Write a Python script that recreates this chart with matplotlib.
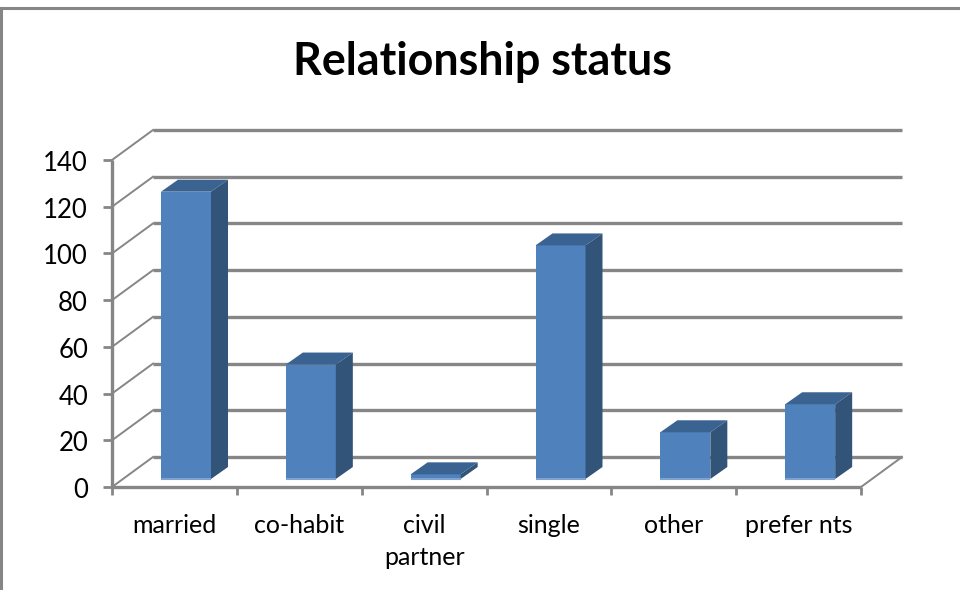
import numpy as np
import matplotlib
matplotlib.use("Agg")
import matplotlib.pyplot as plt

categories = ["married", "co-habit", "civil\npartner", "single", "other", "prefer nts"]
values = [123, 49, 2, 100, 20, 32]
y_ticks = [0, 20, 40, 60, 80, 100, 120, 140]

GREY = "#868686"
FRONT = "#4F81BD"
TOP = "#3B6391"
SIDE = "#335479"
EDGE = "#7FA3D0"

W, H = 960, 590
fig = plt.figure(figsize=(W / 100, H / 100), dpi=100)
plt.rcParams["font.family"] = ["Lato", "DejaVu Sans"]

# axes box is the front face of the fake 3D chart
x0, x1, y0, y1 = 112, 861, 487, 160
ax = fig.add_axes([x0 / W, 1 - y0 / H, (x1 - x0) / W, (y0 - y1) / H])
ax.set_xlim(0, len(categories))
ax.set_ylim(0, y_ticks[-1])
ax.axis("off")

# pixel to data scale
sx = len(categories) / (x1 - x0)
sy = y_ticks[-1] / (y0 - y1)
depth_x, depth_y = 41 * sx, 30 * sy

# walls and gridlines
for v in y_ticks:
    ax.plot([depth_x, len(categories) + depth_x], [v + depth_y] * 2, color=GREY, lw=2.4,
            clip_on=False, zorder=1, solid_capstyle="butt")
    ax.plot([0, depth_x], [v, v + depth_y], color=GREY, lw=1.4, clip_on=False, zorder=1)
    ax.plot([-9 * sx, 0], [v, v], color=GREY, lw=2.0, clip_on=False, zorder=2, solid_capstyle="butt")
    ax.text(-24 * sx, v - 1.5, str(v), ha="right", va="center", fontsize=18.5, color="black")

# floor edge on the right
ax.plot([len(categories), len(categories) + depth_x], [0, depth_y], color=GREY, lw=1.4,
        clip_on=False, zorder=1)
ax.plot([0, 0], [0, y_ticks[-1]], color=GREY, lw=2.4, clip_on=False, zorder=2, solid_capstyle="butt")
ax.plot([0, len(categories)], [0, 0], color=GREY, lw=2.4, clip_on=False, zorder=2, solid_capstyle="butt")
for i in range(len(categories) + 1):
    ax.plot([i, i], [0, -8 * sy], color=GREY, lw=2.0, clip_on=False, zorder=2, solid_capstyle="butt")

# bars
bw = 50 * sx
bx, by = 49 * sx, 8 * sy
dx, dy = 17 * sx, 12 * sy
for i, (name, v) in enumerate(zip(categories, values)):
    l, r = i + bx, i + bx + bw
    b, t = by, by + v
    ax.fill([l, r, r, l], [b, b, t, t], color=FRONT, lw=0, zorder=4, clip_on=False)
    ax.fill([l, r, r + dx, l + dx], [t, t, t + dy, t + dy], color=TOP, lw=0, zorder=4, clip_on=False)
    ax.fill([r, r + dx, r + dx, r], [b, b + dy, t + dy, t], color=SIDE, lw=0, zorder=4, clip_on=False)
    ax.plot([l, r], [b, b], color=EDGE, lw=1.5, zorder=5, clip_on=False, solid_capstyle="butt")
    ax.text(i + 0.5, -27 * sy, name, ha="center", va="top", fontsize=18, color="black",
            linespacing=1.45)

fig.text(482 / W, 1 - 62 / H, "Relationship status", ha="center", va="center",
         fontsize=32.3, fontweight="bold", color="black")

# outer chart frame
fig.add_artist(plt.Line2D([0, 1], [1 - 8 / H] * 2, color=GREY, lw=2.2))
fig.add_artist(plt.Line2D([1 / W, 1 / W], [0, 1 - 8 / H], color=GREY, lw=2.2))

fig.savefig("out.png", dpi=100)
